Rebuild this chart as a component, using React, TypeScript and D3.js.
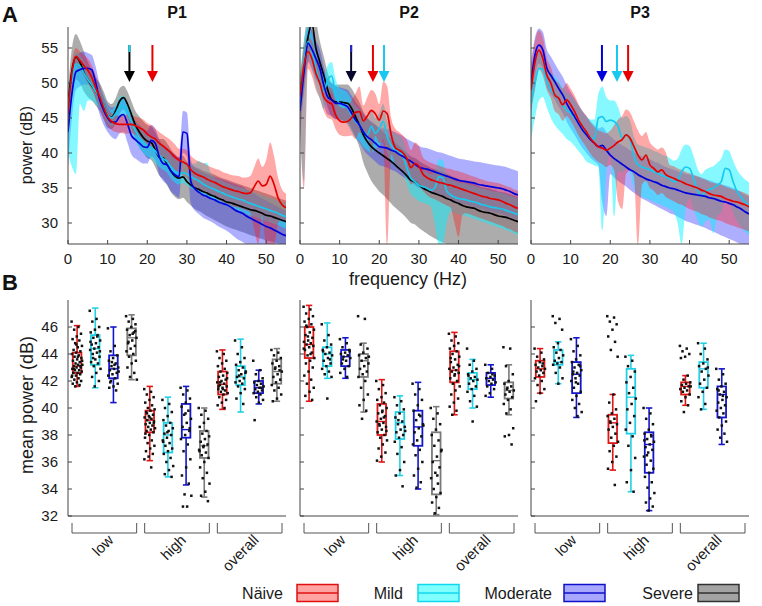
import React from 'react';
import * as d3 from 'd3';

// ---------- DATA ----------
const FREQ = [0,1,2,3,4,5,6,7,8,9,10,11,12,13,14,15,16,17,18,19,20,21,22,23,24,25,26,27,28,29,30,31,32,33,34,35,36,37,38,39,40,41,42,43,44,45,46,47,48,49,50,51,52,53,54,55];

const P1_RED_M = [45.5,51.5,53.8,53.2,52.5,51.8,50.8,49.3,48.0,46.5,45.2,44.5,44.2,44.1,44.1,44.1,44.1,43.9,43.6,43.3,42.7,42.3,42.0,41.4,41.0,40.5,40.0,39.4,39.0,38.7,38.4,37.6,37.1,36.8,36.6,36.3,36.0,35.8,35.5,35.2,35.0,34.8,34.6,34.5,34.3,34.2,34.3,35.2,36.0,35.3,35.5,36.7,35.5,33.6,32.6,32.2];
const P1_RED_LO = [42,49.5,52.5,52,51,50,49,47.8,46.5,45,44,43.3,43,42.9,42.8,42.8,42.8,42.6,42.2,41.8,41.2,40.8,40.5,39.8,39.4,38.8,38.2,37.5,37.2,36.8,36.4,35.6,35.1,34.8,34.5,34.2,33.9,33.7,33.3,33,32.8,32.5,32.3,32.2,32,31.8,31.5,29,27,31,27,27,27,30,30.5,30.2];
const P1_RED_HI = [47,53,55,54.5,54,53.5,52.5,51,49.5,48,46.5,45.7,45.4,45.3,45.4,45.5,45.4,45.2,45,44.8,44.3,44,43.5,43,42.6,42.2,41.8,41.2,40.6,40.6,40.4,39.6,39.1,38.8,38.6,38.3,38,37.8,37.6,37.3,37.1,36.9,36.8,36.7,36.5,36.5,36.7,38,39.2,38,39,41.5,39.5,36.5,34.8,34.2];

const P1_CYAN_M = [46.5,50.5,52.7,52.4,51.4,50.5,49.7,48.8,48.0,46.8,45.5,45.0,45.6,46.5,46.7,45.8,44.5,43.2,42.2,41.5,41.0,40.8,40.3,39.6,39.2,38.8,37.9,37.4,37.1,37.2,37.0,36.6,36.3,36.0,35.6,35.3,35.0,34.8,34.5,34.3,34.0,33.8,33.6,33.4,33.3,33.0,32.8,32.6,32.4,32.2,32.0,31.8,31.6,31.4,31.1,30.9];
const P1_CYAN_LO = [40,38,37,47,46,47.5,47.5,47,46.5,45.5,44.2,43.8,44.2,45,45.2,44.3,43,41.8,40.8,40,39.5,39.2,38.6,38,37.6,37.2,36.3,35.8,35.5,35.7,35.4,35,34.7,34.4,34,33.7,33.4,33.2,32.9,32.7,32.4,32.2,32,31.8,31.6,31.3,31.1,30.9,30.7,30.5,30.3,30.1,29.9,29.7,29.4,29.2];
const P1_CYAN_HI = [48,52.5,54.5,54,53,52,51.2,50.2,49.3,48.2,46.8,46.2,46.9,48,48.2,47.2,46,44.6,43.6,43,42.5,42.3,41.9,41.2,40.8,40.5,39.6,39.1,38.8,38.8,38.7,38.4,38.5,38.9,38.5,38.6,37.2,36.5,36.2,36,35.7,35.5,35.3,35.1,35,34.8,34.6,34.4,34.2,34,33.8,33.6,33.4,33.2,33,32.8];

const P1_BLUE_M = [43.0,48.5,51.6,51.9,52.1,52.1,51.9,50.0,47.6,46.1,45.0,44.4,44.4,45.2,45.5,44.2,42.5,41.9,41.4,40.9,40.8,41.8,41.4,39.5,38.5,38.3,37.4,36.9,36.6,43.0,42.8,35.9,34.9,34.4,34.0,33.8,33.5,33.3,33.0,32.8,32.6,32.3,31.9,31.6,31.4,31.0,30.7,30.4,30.1,29.8,29.5,29.3,29.0,28.7,28.4,28.2];
const P1_BLUE_LO = [38,45,49,49.5,49.8,49.8,49.5,47.5,45.5,44,43,42.3,42,42.8,43,41.5,39.8,39.2,38.8,38.5,38.5,39.5,39,37,36,35.5,34.5,34,33.6,40,39.5,32.8,31.8,31.3,30.8,30.5,30.2,29.9,29.5,29.2,28.9,28.5,28,27.6,27.3,27,27,27,27,27,27,27,27,27,27,27];
const P1_BLUE_HI = [46,51.5,54,54.3,54.5,54.3,54,52.3,49.8,48.2,47,46.5,46.6,47.5,47.8,46.7,45,44.6,44,43.5,43.2,44,43.5,42,41,40.8,40.2,39.8,39.4,46,45.8,39,38,37.6,37.2,37,36.8,36.6,36.4,36.2,36,35.8,35.6,35.4,35.2,34.8,34.5,34.2,33.8,33.5,33.2,32.9,32.6,32.3,32,31.8];

const P1_BLACK_M = [47.0,51.8,53.7,53.0,51.5,50.5,49.6,48.8,48.0,46.8,45.5,45.1,46.0,47.4,47.9,47.0,45.5,44.0,43.0,42.2,41.7,41.5,40.5,39.4,39.3,38.4,37.4,36.7,36.4,36.6,35.9,35.4,35.0,34.8,34.5,34.3,34.0,33.8,33.5,33.3,33.0,32.9,32.7,32.5,32.3,32.1,31.9,31.8,31.6,31.4,31.1,31.0,30.8,30.6,30.4,30.2];
const P1_BLACK_LO = [42,48,50.5,50,48.8,48,47.5,46.8,46,44.8,43.6,43.4,44.2,45.6,46.2,45.2,43.6,42,40.8,40,39.3,39,38,36.8,36.3,35.4,34.4,33.7,33.4,33.6,33,32.5,32,31.7,31.4,31,30.7,30.4,30.1,29.8,29.5,29.3,29.1,28.9,28.7,28.5,28.3,28.1,27.9,27.7,27.5,27.4,27.2,27.1,27,27];
const P1_BLACK_HI = [49,55,57,56,54.5,53,51.8,50.8,50,48.8,47.4,47,47.8,49.2,49.6,48.8,47.4,46,45.2,44.5,44,43.8,43,42,42,41.4,40.5,39.8,39.4,39.6,38.8,38.3,38,37.8,37.5,37.3,37.1,36.9,36.6,36.4,36.2,36,35.8,35.6,35.4,35.2,35,34.8,34.6,34.4,34.2,34,33.8,33.6,33.4,33.2];

const P2_RED_M = [48.0,52.5,54.5,53.5,51.4,50.0,48.0,47.3,47.0,45.4,44.6,44.4,44.5,45.0,45.8,45.9,44.6,45.3,46.1,45.6,44.7,46.0,45.6,42.6,40.8,40.4,40.0,39.2,37.9,38.5,38.1,37.0,36.5,36.2,36.0,35.8,35.7,35.5,35.4,35.2,35.0,34.8,34.6,34.4,34.2,34.0,33.8,33.7,33.5,33.4,33.3,33.1,32.8,32.6,32.3,32.1];
const P2_RED_LO = [44,35,52,51,49,47.8,46,45,44.8,43.4,42.6,42.4,42.4,42.5,42,43,42.5,42.5,40,42.5,41.5,41.5,27,39.8,38.5,38,37.5,36.8,35.5,35.8,35.5,34.6,34,33.6,33.4,33.1,32.8,32.5,32.2,30,28,31.2,31.4,31.2,31,30.8,30.6,30.4,30.2,30,29.8,29.6,29.3,29.1,28.8,28.6];
const P2_RED_HI = [50,55,56.5,56,54,52.5,50,49.5,49.2,47.5,46.6,46.4,46.6,47.5,48.5,49.5,46.8,48,49,48.5,47,50.2,49.5,45,43.5,43,42.5,41.8,40.4,41.5,41,39.4,38.9,38.6,38.4,38.2,38,37.8,37.7,37.5,37.4,37.2,37,36.8,36.6,36.4,36.2,36,35.9,35.8,35.7,35.5,35.3,35.1,34.8,34.6];

const P2_CYAN_M = [47.0,53.0,55.9,54.7,52.1,50.2,48.8,50.5,51.0,48.3,47.1,46.9,46.4,45.4,44.5,44.0,43.0,42.6,43.8,42.8,43.5,44.5,42.3,41.1,40.4,40.2,39.5,37.8,36.4,35.9,35.4,35.2,35.0,34.7,35.0,36.6,36.5,34.6,34.0,33.7,33.5,33.4,33.3,33.1,33.0,32.8,32.6,32.5,32.3,32.2,32.1,32.0,31.8,31.6,31.4,31.2];
const P2_CYAN_LO = [43,36,53.5,52,49.5,47.8,46.3,48,48.6,46,44.8,44.6,44,43,42.2,41.7,40.8,40.4,40,40.6,41,42,40,38.8,38.1,37.9,37.2,35.5,34.1,33.6,33.1,32.9,32.7,32.4,30,27,27,30,31.7,31.4,31.2,31.1,31,30.8,30.6,30.4,30.2,30,29.8,29.6,29.4,29.2,29,28.8,28.5,28.3];
const P2_CYAN_HI = [50,56,58,57,54.5,52.5,51,52.5,53,50.5,49.3,49,48.6,47.6,46.7,46.2,45.2,44.8,46,45,45.8,47,44.6,43.4,42.7,42.5,41.8,40.1,38.7,38.2,37.7,37.5,37.3,37,37.3,39.1,39,36.9,36.3,36,35.8,35.7,35.6,35.4,35.3,35.1,34.9,34.8,34.6,34.5,34.4,34.3,34.1,33.9,33.7,33.5];

const P2_BLUE_M = [46.0,51.5,55.7,54.8,53.5,52.1,49.7,48.0,47.6,47.1,47.1,46.9,46.6,45.7,44.7,44.0,43.0,42.3,41.9,41.4,40.9,40.8,40.7,40.4,40.2,39.8,39.5,39.1,38.8,38.4,38.0,37.8,37.7,37.5,37.3,37.1,36.9,36.7,36.5,36.3,36.1,36.0,35.9,35.8,35.7,35.5,35.4,35.3,35.2,35.1,35.0,34.9,34.7,34.5,34.2,34.0];
const P2_BLUE_LO = [42,48.5,53,52,50.5,49.5,47,45.5,45.3,44.8,44.8,44.6,44.2,43.2,42.2,41.5,40.5,39.8,39.3,38.8,38.3,38.1,37.9,37.6,37.4,37,36.6,36.2,35.9,35.4,35,34.8,34.6,34.4,34.2,34,33.8,33.6,33.3,33.1,32.9,32.7,32.6,32.4,32.3,32.1,32,31.8,31.7,31.5,31.4,31.3,31.1,30.9,30.6,30.4];
const P2_BLUE_HI = [49,54,58,57.5,56,54.8,52.3,50.5,50,49.5,49.4,49.2,49,48.2,47.3,46.6,45.6,44.9,44.5,44.1,43.6,43.5,43.4,43.2,43,42.7,42.4,42,41.7,41.4,41,40.8,40.7,40.5,40.3,40.1,40,39.8,39.6,39.4,39.2,39.1,39,38.9,38.8,38.7,38.6,38.5,38.4,38.3,38.2,38.1,38,37.8,37.6,37.4];

const P2_BLACK_M = [48,52.5,56.5,58.5,55.0,53.0,51.1,49.0,47.6,47.3,47.3,47.2,47.1,46.4,45.2,44.0,42.6,41.6,40.9,40.4,40.0,39.6,39.2,38.8,38.3,37.8,37.3,36.7,36.1,35.9,35.4,35.0,34.7,34.4,34.2,34.0,33.8,33.5,33.3,33.0,32.8,32.5,32.3,32.2,32.1,31.8,31.6,31.5,31.4,31.2,31.0,30.9,30.8,30.6,30.4,30.2];
const P2_BLACK_LO = [44,49,53,55,52,50,48.5,46.5,45.2,44.9,44.8,44.6,44.4,43.6,42.2,40.8,38.6,37.2,36,35.2,34.5,34,33.4,32.8,32.2,31.7,31.2,30.6,30,29.8,29.3,28.9,28.5,28.1,27.8,27.5,27.2,27,27,27,27,27,27,27,27,27,27,27,27,27,27,27,27,27,27,27];
const P2_BLACK_HI = [51,56,60,61,59,56,53.8,51.5,50,49.7,49.8,49.8,49.8,49.2,48.2,47.2,45.9,45,44.4,44,43.5,43,42.5,42,41.5,41,40.5,40,39.5,39.3,38.9,38.5,38.2,37.9,37.7,37.5,37.3,37,36.8,36.5,36.3,36,35.8,35.7,35.6,35.3,35.1,35,34.9,34.7,34.5,34.4,34.3,34.1,33.9,33.7];

const P3_RED_M = [49,53,54.7,53.5,51.1,50.0,48.3,47.8,46.9,47.6,46.9,45.9,44.7,43.8,43.0,42.1,41.4,40.9,40.7,40.4,40.7,41.1,41.6,41.9,42.6,42.1,40.9,39.7,39.0,39.7,38.3,37.8,37.3,37.6,36.9,36.6,36.4,36.1,35.9,35.6,35.4,35.2,35.0,34.7,34.5,34.2,34.0,33.9,33.8,33.5,33.3,33.1,33.0,32.8,32.6,32.3];
const P3_RED_LO = [46,49,52,51,49,47.8,46,45.5,44.6,45.3,44.6,43.6,42.5,41.6,40.8,39.9,39.2,38.7,38.4,38,38.3,37.5,33,32,37,37.5,36.5,27,35.5,36,35,34.6,34,34.3,33.7,33.4,33.1,32.8,32.6,32.3,32,31.8,31.6,31.3,31.1,30.8,30.6,30.4,30.3,30,29.8,29.6,29.4,29.2,29,28.8];
const P3_RED_HI = [52,56,57.5,56.5,53.5,52.3,50.5,50,49.2,50,49.2,48.2,47,46,45.3,44.4,43.7,43.2,43,42.8,43.2,44,44.8,45.3,46.2,45.8,44.5,43.2,42.4,43,41.5,40.9,40.5,40.8,40.1,38.3,38.1,37.8,37.6,37.3,37.1,36.9,36.7,36.4,36.2,35.9,35.7,35.6,35.5,35.2,35,34.8,34.7,34.5,34.3,34];

const P3_CYAN_M = [47,50,52.1,51.9,50.2,49.0,48.3,47.6,46.9,46.1,45.7,45.0,44.2,43.5,42.6,42.3,42.0,45.0,45.2,44.5,44.7,44.5,43.8,42.1,42.6,41.9,39.5,38.3,38.0,37.8,37.6,37.3,37.1,36.8,36.6,36.3,35.9,36.1,37.3,38.0,37.8,36.4,34.7,33.8,34.5,34.8,35.0,35.4,35.9,37.8,37.6,35.9,34.5,33.7,33.0,32.6];
const P3_CYAN_LO = [42,45,47.5,48,46.5,45,44,43.3,42.7,42,41.6,41,40.3,39.6,38.8,38.5,38.2,38,29,37,40,31,37.5,37.2,37.8,37.2,35,34,33.7,33.5,33.3,33,32.8,32.5,32.3,32,31.6,30,27,32,33.5,32,30.5,29.5,30.2,30.5,28.5,31,31.5,33.5,33.3,31.5,30.2,29.4,28.7,28.3];
const P3_CYAN_HI = [50,53,54.5,54,52.5,51.5,51,50.2,49.4,48.6,48.2,47.5,46.7,46,45.2,44.8,44.8,48.5,49.5,48,47.5,47.5,46.5,45,45.3,44.6,42.3,41.2,41,40.8,40.6,40.3,40.1,39.8,39.6,39.3,38.9,39.2,40.5,41.2,41,39.6,37.8,37,37.6,37.9,38.1,38.6,39.2,40.5,40.3,38.9,37.6,36.8,36.2,35.8];

const P3_BLUE_M = [50,54,55.4,54.7,52.1,51.1,50.2,49.2,48.3,47.1,46.1,45.2,44.2,43.3,42.6,41.9,41.4,40.9,41.1,40.4,39.7,39.2,38.8,38.4,38.0,37.6,37.3,36.9,36.6,36.3,36.1,35.9,35.7,35.4,35.2,35.0,34.9,34.7,34.5,34.3,34.2,34.1,34.0,33.9,33.8,33.6,33.5,33.3,33.1,33.0,32.8,32.6,32.3,32.0,31.6,31.3];
const P3_BLUE_LO = [45,51,52.8,52,49.5,48.5,47.6,46.6,45.7,44.5,43.5,42.6,41.6,40.7,40,39.3,38.8,38.3,33,31,37,36.5,36,35.6,35.2,34.7,34.3,33.9,33.5,33.2,32.9,32.6,32.3,32,31.7,31.4,31.2,30.9,30.6,30.3,30.1,29.9,29.7,29.5,29.3,29,28.8,28.5,28.2,28,27.7,27.5,27.2,27,27,27];
const P3_BLUE_HI = [53,56.5,57.8,57.3,54.8,53.8,52.8,51.8,50.9,49.7,48.7,47.8,46.8,45.9,45.2,44.5,44,43.5,43.7,43,42.4,41.9,41.5,41.1,40.8,40.4,40.1,39.8,39.5,39.3,39.1,38.8,38.6,38.3,38,37.8,37.6,37.4,37.2,37,36.9,36.8,36.6,36.5,36.3,36.1,35.9,35.7,35.5,35.4,35.2,35,34.7,34.4,34,33.8];

// arrows (frequency, colour, top segment colour)
const ARROW_FREQ = [[15.5, 21.3], [12.9, 18.4, 21.2], [17.9, 21.7, 24.5]];
const ARROW_COLOR = [['#000000', '#e60000'], ['#08082e', '#e60000', '#18c8ee'], ['#0000dd', '#18c8ee', '#e60000']];
const ARROW_TOP = [['#18d8f0', ''], ['#2828c8', '', ''], ['', '', '']];

// box plots: [whiskerLow, q1, median, q3, whiskerHigh], order low(N,Mi,Mo,S), high(...), overall(...)
const BOX_P1 = [
  [41.6,42.6,43.1,44.1,46.1],[41.5,43.2,44.4,45.4,47.4],[40.4,42.2,42.9,43.9,46.0],[42.1,43.9,45.2,45.9,46.9],
  [36.1,38.2,39.1,39.8,41.6],[34.9,36.7,38.0,38.9,40.8],[34.3,37.8,38.4,40.3,41.6],[33.4,36.3,37.2,38.3,40.0],
  [39.9,41.0,41.75,42.7,44.3],[39.7,41.7,42.3,43.1,45.1],[40.3,41.1,41.5,42.0,42.8],[40.5,41.8,42.7,43.6,44.4],
];
const BOX_P2 = [
  [40.5,43.7,44.7,46.0,47.6],[42.2,43.1,44.0,44.5,46.3],[42.2,43.1,43.8,44.3,45.2],[39.7,42.3,43.5,44.0,44.8],
  [36.0,38.0,39.0,40.3,42.1],[35.0,37.7,38.9,39.7,40.9],[34.0,37.2,38.6,39.8,41.9],[32.1,33.6,36.1,38.2,40.1],
  [39.5,41.9,42.8,44.2,45.6],[40.0,41.4,42.1,42.6,43.6],[40.8,41.7,42.2,42.6,43.2],[39.5,40.7,41.3,41.9,43.2],
];
const BOX_P3 = [
  [41.1,42.3,42.9,43.5,44.4],[41.8,43.2,43.4,44.3,44.9],[39.3,41.1,42.5,43.4,45.2],null,
  [35.4,37.4,38.9,39.5,41.0],[33.8,38.1,40.8,42.9,43.9],[32.4,35.2,37.3,38.2,40.0],null,
  [40.2,41.0,41.6,41.9,42.4],[39.9,41.5,42.9,43.4,44.8],[37.3,39.3,41.0,41.6,42.9],null,
];

const DOTS_P1 = [
  [46.4,46.0,45.8,45.5,45.3,45.1,45.0,44.8,44.6,44.5,44.3,44.2,44.1,44.0,43.9,43.8,43.7,43.6,43.5,43.4,43.3,43.2,43.2,43.1,43.0,43.0,42.9,42.8,42.8,42.7,42.6,42.6,42.5,42.4,42.3,42.2,42.1,42.0,41.9,41.8,41.7,41.6,43.5,43.8,42.9,43.1,44.7,42.4],
  [47.2,46.6,46.4,46.0,45.8,45.6,45.4,45.2,45.0,44.8,44.7,44.5,44.4,44.3,44.1,44.0,43.8,43.6,43.4,43.3,43.1,42.9,42.6,42.3,42.0,41.6,44.9,45.3,43.7,44.2],
  [45.9,44.6,44.2,43.9,43.7,43.5,43.3,43.1,43.0,42.9,42.8,42.6,42.5,42.4,42.2,42.0,41.8,41.6,41.5,41.3,43.4,42.7,43.2,41.9],
  [46.8,46.6,46.4,46.2,46.0,45.8,45.6,45.4,45.2,45.0,44.8,44.6,44.4,44.2,44.0,43.8,43.5,43.3,43.0,42.6,42.3,42.1,45.5,44.9,45.7],
  [41.4,41.2,41.0,40.8,40.6,40.4,40.2,40.0,39.9,39.8,39.7,39.5,39.4,39.3,39.2,39.1,39.0,38.9,38.8,38.7,38.6,38.5,38.4,38.3,38.2,38.0,37.8,37.6,37.4,37.2,37.0,36.8,36.6,36.4,36.2,35.6,39.6,38.9,39.3,38.1],
  [40.6,40.3,40.0,39.7,39.4,39.1,38.9,38.7,38.5,38.3,38.1,38.0,37.8,37.6,37.4,37.2,37.0,36.8,36.6,36.3,36.0,35.7,35.4,35.1,34.9,38.2,37.5],
  [41.5,41.3,41.0,40.7,40.4,40.1,39.8,39.5,39.2,38.9,38.6,38.3,38.0,37.7,37.3,36.8,36.2,35.6,35.0,34.4,33.6,33.5,32.7,32.7,38.5,39.6],
  [40.0,39.8,39.5,39.2,38.9,38.6,38.3,38.1,37.9,37.7,37.5,37.3,37.1,36.9,36.7,36.5,36.3,36.0,35.6,35.2,34.8,34.4,33.8,33.5,33.1,37.2,36.8],
  [44.2,44.0,43.7,43.5,43.3,43.1,42.9,42.7,42.6,42.4,42.3,42.1,42.0,41.9,41.8,41.7,41.6,41.5,41.4,41.3,41.2,41.1,41.0,40.8,40.6,40.4,40.2,40.0,41.9,42.2,41.4,41.6],
  [45.0,44.5,44.0,43.7,43.4,43.2,43.0,42.8,42.6,42.5,42.3,42.2,42.0,41.9,41.8,41.6,41.4,41.1,40.7,40.3,42.4,42.7],
  [43.5,42.8,42.5,42.2,42.0,41.9,41.8,41.7,41.6,41.5,41.4,41.3,41.2,41.1,41.0,40.8,40.6,40.4,39.1,41.5],
  [44.3,44.1,43.9,43.7,43.5,43.3,43.1,42.9,42.7,42.5,42.3,42.1,41.9,41.7,41.5,41.3,41.0,40.7,40.5,42.8,43.0],
];
const DOTS_P2 = [
  [47.5,47.3,47.0,46.8,46.6,46.4,46.2,46.0,45.8,45.6,45.4,45.2,45.0,44.9,44.8,44.7,44.6,44.5,44.3,44.1,43.9,43.7,43.5,43.3,43.0,42.7,42.4,42.1,41.8,41.5,41.2,40.9,40.6,45.3,44.4,44.0,46.1],
  [46.2,45.4,45.0,44.7,44.5,44.3,44.1,44.0,43.9,43.7,43.5,43.3,43.1,42.9,42.7,42.5,42.3,40.7,44.2,43.6],
  [45.1,44.8,44.5,44.3,44.1,44.0,43.9,43.8,43.7,43.5,43.3,43.1,42.9,42.6,42.3,43.6,44.2],
  [46.8,46.6,44.7,44.4,44.1,43.9,43.7,43.5,43.3,43.1,42.9,42.7,42.5,42.3,42.0,41.5,41.0,40.6,40.2,39.8,39.2,43.8],
  [42.0,41.7,41.4,41.1,40.8,40.6,40.4,40.2,40.0,39.8,39.6,39.4,39.2,39.0,38.9,38.8,38.6,38.4,38.2,38.0,37.8,37.6,37.3,37.0,36.7,36.4,36.1,39.3,38.7,38.3,39.7],
  [40.8,40.5,40.2,39.9,39.6,39.3,39.0,38.8,38.6,38.4,38.2,38.0,37.8,37.5,37.1,36.6,36.0,35.4,35.0,34.2,39.1,38.3],
  [41.8,41.4,41.0,40.6,40.2,39.8,39.4,39.1,38.8,38.5,38.2,37.9,37.6,37.3,36.9,36.5,36.0,35.5,35.0,34.5,34.1,38.7,39.5],
  [40.0,39.6,39.2,38.8,38.4,38.0,37.6,37.2,36.8,36.4,36.0,35.6,35.2,34.8,34.4,34.0,33.7,33.4,33.0,32.6,32.2,36.9,35.0],
  [45.5,45.3,45.0,44.8,44.6,44.4,44.2,44.0,43.8,43.6,43.4,43.2,43.0,42.9,42.8,42.7,42.6,42.4,42.2,42.0,41.8,41.6,41.3,41.0,40.7,40.4,40.1,39.8,39.5,43.1,42.5,43.7],
  [44.4,43.5,43.2,42.9,42.7,42.5,42.3,42.2,42.1,42.0,41.8,41.6,41.4,41.2,40.9,40.5,40.1,39.0,42.4],
  [43.2,42.9,42.6,42.4,42.3,42.2,42.1,42.0,41.9,41.8,41.6,41.4,41.1,40.9,42.5],
  [44.5,44.4,43.1,42.5,42.0,41.8,41.6,41.4,41.3,41.2,41.0,40.8,40.6,40.3,39.9,39.6,38.5,38.0,37.9,37.3,41.5],
];
const DOTS_P3 = [
  [44.4,44.1,43.8,43.6,43.4,43.2,43.1,43.0,42.9,42.8,42.7,42.6,42.4,42.2,42.0,41.7,41.4,41.1,40.5,43.3],
  [46.8,46.6,46.3,45.8,44.8,44.5,44.3,44.1,43.9,43.7,43.5,43.4,43.3,43.2,43.0,42.6,42.2,41.8],
  [45.1,44.6,44.2,43.9,43.6,43.4,43.2,43.0,42.8,42.6,42.5,42.4,42.2,42.0,41.8,41.5,41.2,40.9,40.6,40.3,40.0,39.7,39.4,42.7,43.1,41.9],
  [],
  [46.8,46.7,46.4,46.2,45.8,45.3,44.9,44.3,43.8,41.0,40.4,39.9,39.6,39.4,39.2,39.0,38.8,38.6,38.4,38.1,37.8,37.5,37.2,36.8,36.4,36.0,35.5,34.3,38.9],
  [43.8,43.5,43.1,42.7,42.3,41.9,41.5,41.1,40.7,40.3,39.9,39.4,38.9,38.4,37.9,37.2,36.3,35.4,34.5,33.8],
  [40.0,39.6,39.2,38.8,38.4,38.1,37.9,37.7,37.5,37.3,37.1,36.9,36.7,36.4,36.1,35.8,35.5,35.2,34.9,34.5,34.1,33.7,33.3,33.0,32.7,32.4,37.6,38.0,36.5],
  [],
  [44.6,44.4,44.2,44.0,43.8,43.7,42.4,42.1,41.9,41.8,41.7,41.6,41.5,41.4,41.3,41.2,41.0,40.8,40.5,40.2,39.7,41.6],
  [44.8,44.4,44.0,43.6,43.3,43.1,42.9,42.7,42.4,42.1,41.8,41.5,41.2,40.8,40.3,39.9,43.0],
  [42.9,42.5,42.1,41.8,41.6,41.4,41.2,41.0,40.8,40.6,40.4,40.2,40.0,39.8,39.6,39.3,39.0,38.7,38.4,38.1,37.8,37.5,40.9,41.3],
  [],
];

const GROUPS = ['Näive', 'Mild', 'Moderate', 'Severe'];
const CATS = ['low', 'high', 'overall'];
const TITLES = ['P1', 'P2', 'P3'];
const X_TICKS_TOP = [0, 10, 20, 30, 40, 50];
const Y_TICKS_TOP = [30, 35, 40, 45, 50, 55];
const Y_TICKS_BOT = [32, 34, 36, 38, 40, 42, 44, 46];

// ---------- STYLE ----------
const FONT = 'Liberation Sans, Arial, Helvetica, sans-serif';
const LINE_COLORS = ['#e60000', '#18c8ee', '#0000dd', '#000000'];
const BAND_COLORS = ['#ff1a1a', '#00f2ff', '#2a2aff', '#5a5a5a'];
const BAND_OP = [0.38, 0.48, 0.38, 0.5];
const BOX_COLORS = ['#e01515', '#22d0e6', '#1515cc', '#7a7a7a'];
const LEG_FILL = ['#ffa3a3', '#80ffff', '#a8a8ff', '#a3a3a3'];
const LEG_STROKE = ['#e01010', '#10d8ee', '#1010c8', '#303030'];
const AXIS = '#444';
const TXT = '#1a1a1a';

const PX = [68, 300, 531];
const PW = 218;
const TOP_Y0 = 27, TOP_Y1 = 244;
const BOT_Y0 = 300, BOT_Y1 = 516;

const SERIES = [
  [[P1_RED_M, P1_RED_LO, P1_RED_HI], [P1_CYAN_M, P1_CYAN_LO, P1_CYAN_HI], [P1_BLUE_M, P1_BLUE_LO, P1_BLUE_HI], [P1_BLACK_M, P1_BLACK_LO, P1_BLACK_HI]],
  [[P2_RED_M, P2_RED_LO, P2_RED_HI], [P2_CYAN_M, P2_CYAN_LO, P2_CYAN_HI], [P2_BLUE_M, P2_BLUE_LO, P2_BLUE_HI], [P2_BLACK_M, P2_BLACK_LO, P2_BLACK_HI]],
  [[P3_RED_M, P3_RED_LO, P3_RED_HI], [P3_CYAN_M, P3_CYAN_LO, P3_CYAN_HI], [P3_BLUE_M, P3_BLUE_LO, P3_BLUE_HI], null],
];
const BOXES = [BOX_P1, BOX_P2, BOX_P3];
const DOTS = [DOTS_P1, DOTS_P2, DOTS_P3];

const BAND_ORDER = [3, 2, 1, 0];
const LINE_ORDER = [3, 1, 2, 0];

function TopPanel({ p }: { p: number }) {
  const x0 = PX[p];
  const x = d3.scaleLinear().domain([0, 55]).range([x0, x0 + PW]);
  const y = d3.scaleLinear().domain([27, 58]).range([TOP_Y1, TOP_Y0]);
  const series = SERIES[p];
  const idx = FREQ.map((_, i) => i);
  const area = (lo: number[], hi: number[]) =>
    d3.area<number>().x((d) => x(FREQ[d])).y0((d) => y(lo[d])).y1((d) => y(hi[d])).curve(d3.curveMonotoneX)(idx) || '';
  const line = (m: number[]) =>
    d3.line<number>().x((d) => x(FREQ[d])).y((d) => y(m[d])).curve(d3.curveMonotoneX)(idx) || '';
  const clipId = `clipTop${p}`;
  return (
    <g>
      <defs>
        <clipPath id={clipId}>
          <rect x={x0} y={TOP_Y0} width={PW} height={TOP_Y1 - TOP_Y0} />
        </clipPath>
      </defs>
      <g clipPath={`url(#${clipId})`}>
        {BAND_ORDER.map((k) =>
          series[k] ? (
            <path key={'b' + k} d={area(series[k]![1], series[k]![2])} fill={BAND_COLORS[k]} fillOpacity={BAND_OP[k]} stroke="none" />
          ) : null
        )}
        {LINE_ORDER.map((k) =>
          series[k] ? (
            <path key={'l' + k} d={line(series[k]![0])} fill="none" stroke={LINE_COLORS[k]} strokeWidth={1.7} />
          ) : null
        )}
      </g>
      {ARROW_FREQ[p].map((f, j) => {
        const ax = x(f);
        const top = 45, headBase = 71, tip = 82;
        return (
          <g key={'a' + j}>
            <line x1={ax} x2={ax} y1={top} y2={headBase + 1} stroke={ARROW_COLOR[p][j]} strokeWidth={2} />
            {ARROW_TOP[p][j] ? <line x1={ax} x2={ax} y1={top} y2={top + 7} stroke={ARROW_TOP[p][j]} strokeWidth={2} /> : null}
            <path d={`M${ax - 5.5},${headBase} L${ax + 5.5},${headBase} L${ax},${tip} Z`} fill={ARROW_COLOR[p][j]} />
          </g>
        );
      })}
      <line x1={x0} x2={x0} y1={TOP_Y0} y2={TOP_Y1} stroke={AXIS} strokeWidth={1} />
      <line x1={x0} x2={x0 + PW} y1={TOP_Y1} y2={TOP_Y1} stroke={AXIS} strokeWidth={1} />
      {Y_TICKS_TOP.map((t) => (
        <g key={'yt' + t}>
          <line x1={x0} x2={x0 + 4} y1={y(t)} y2={y(t)} stroke={AXIS} />
          {p === 0 ? (
            <text x={x0 - 10} y={y(t)} dy="0.36em" textAnchor="end" fontSize={15} fill={TXT}>{t}</text>
          ) : null}
        </g>
      ))}
      {X_TICKS_TOP.map((t) => (
        <g key={'xt' + t}>
          <line x1={x(t)} x2={x(t)} y1={TOP_Y1} y2={TOP_Y1 - 4} stroke={AXIS} />
          <text x={x(t)} y={263.5} textAnchor="middle" fontSize={15} fill={TXT}>{t}</text>
        </g>
      ))}
      <text x={x0 + PW / 2} y={18} textAnchor="middle" fontSize={16} fontWeight="bold" fill="#111">{TITLES[p]}</text>
    </g>
  );
}

function BottomPanel({ p }: { p: number }) {
  const x0 = PX[p];
  const xb = d3.scaleBand<number>().domain(d3.range(12)).range([x0, x0 + PW]).paddingInner(0);
  const bw = xb.bandwidth();
  const y = d3.scaleLinear().domain([32, 48]).range([BOT_Y1, BOT_Y0]);
  const boxes = BOXES[p];
  const dots = DOTS[p];
  const half = 4.3, cap = 3.2;
  return (
    <g>
      {boxes.map((b, i) => {
        if (!b) return null;
        const k = i % 4;
        const cx = (xb(i) as number) + bw / 2;
        const col = BOX_COLORS[k];
        const [wl, q1, md, q3, wh] = b;
        return (
          <g key={'bx' + i}>
            <line x1={cx} x2={cx} y1={y(wh)} y2={y(q3)} stroke={col} strokeWidth={1.6} />
            <line x1={cx} x2={cx} y1={y(q1)} y2={y(wl)} stroke={col} strokeWidth={1.6} />
            <line x1={cx - cap} x2={cx + cap} y1={y(wh)} y2={y(wh)} stroke={col} strokeWidth={1.6} />
            <line x1={cx - cap} x2={cx + cap} y1={y(wl)} y2={y(wl)} stroke={col} strokeWidth={1.6} />
            <rect x={cx - half} y={y(q3)} width={half * 2} height={y(q1) - y(q3)} fill="#fff" fillOpacity={0.6} stroke={col} strokeWidth={1.8} />
            <line x1={cx - half} x2={cx + half} y1={y(md)} y2={y(md)} stroke={col} strokeWidth={1.4} />
            {dots[i].map((v, j) => {
              const jit = (((j * 0.6180339) % 1) - 0.5) * 11;
              return <rect key={j} x={cx + jit - 1.25} y={y(v) - 1.25} width={2.5} height={2.5} fill="#111" />;
            })}
          </g>
        );
      })}
      <line x1={x0} x2={x0} y1={BOT_Y0} y2={BOT_Y1} stroke={AXIS} strokeWidth={1} />
      <line x1={x0} x2={x0 + PW} y1={BOT_Y1} y2={BOT_Y1} stroke={AXIS} strokeWidth={1} />
      {Y_TICKS_BOT.map((t) => (
        <g key={'ybt' + t}>
          <line x1={x0} x2={x0 + 4} y1={y(t)} y2={y(t)} stroke={AXIS} />
          {p === 0 ? (
            <text x={x0 - 10} y={y(t)} dy="0.36em" textAnchor="end" fontSize={15} fill={TXT}>{t}</text>
          ) : null}
        </g>
      ))}
      {CATS.map((c, g) => {
        const a = (xb(g * 4) as number) + 4;
        const b2 = (xb(g * 4 + 3) as number) + bw - 4;
        const mid = (a + b2) / 2;
        return (
          <g key={'cat' + c}>
            <path d={`M${a},523 L${a},533 L${b2},533 L${b2},523`} fill="none" stroke="#555" strokeWidth={1} />
            <text transform={`translate(${mid + 10},541) rotate(-45)`} textAnchor="end" fontSize={15} fill={TXT}>{c}</text>
          </g>
        );
      })}
    </g>
  );
}

function Legend() {
  const textEnd = [283, 403, 552, 693];
  const boxX = [297, 418, 564, 698];
  return (
    <g>
      {GROUPS.map((g, k) => (
        <g key={g}>
          <text x={textEnd[k]} y={598.5} textAnchor="end" fontSize={16} fill={TXT}>{g}</text>
          <rect x={boxX[k]} y={584.5} width={41} height={17} fill={LEG_FILL[k]} stroke={LEG_STROKE[k]} strokeWidth={1.5} />
          <line x1={boxX[k]} x2={boxX[k] + 41} y1={593} y2={593} stroke={LEG_STROKE[k]} strokeWidth={1.5} />
        </g>
      ))}
    </g>
  );
}

export default function App() {
  return (
    <svg width={762} height={606} style={{ position: 'absolute', left: 0, top: 0, background: '#fff' }} fontFamily={FONT}>
      <rect width={762} height={606} fill="#fff" />
      <text x={2} y={22} fontSize={22} fontWeight="bold" fill="#111">A</text>
      <text x={2} y={290} fontSize={22} fontWeight="bold" fill="#111">B</text>
      {[0, 1, 2].map((p) => <TopPanel key={'t' + p} p={p} />)}
      {[0, 1, 2].map((p) => <BottomPanel key={'b' + p} p={p} />)}
      <text transform="translate(32,145) rotate(-90)" textAnchor="middle" fontSize={16} fill={TXT}>power (dB)</text>
      <text transform="translate(33,405) rotate(-90)" textAnchor="middle" fontSize={18} fill={TXT}>mean power (dB)</text>
      <text x={408} y={285} textAnchor="middle" fontSize={18} fill={TXT}>frequency (Hz)</text>
      <Legend />
    </svg>
  );
}
